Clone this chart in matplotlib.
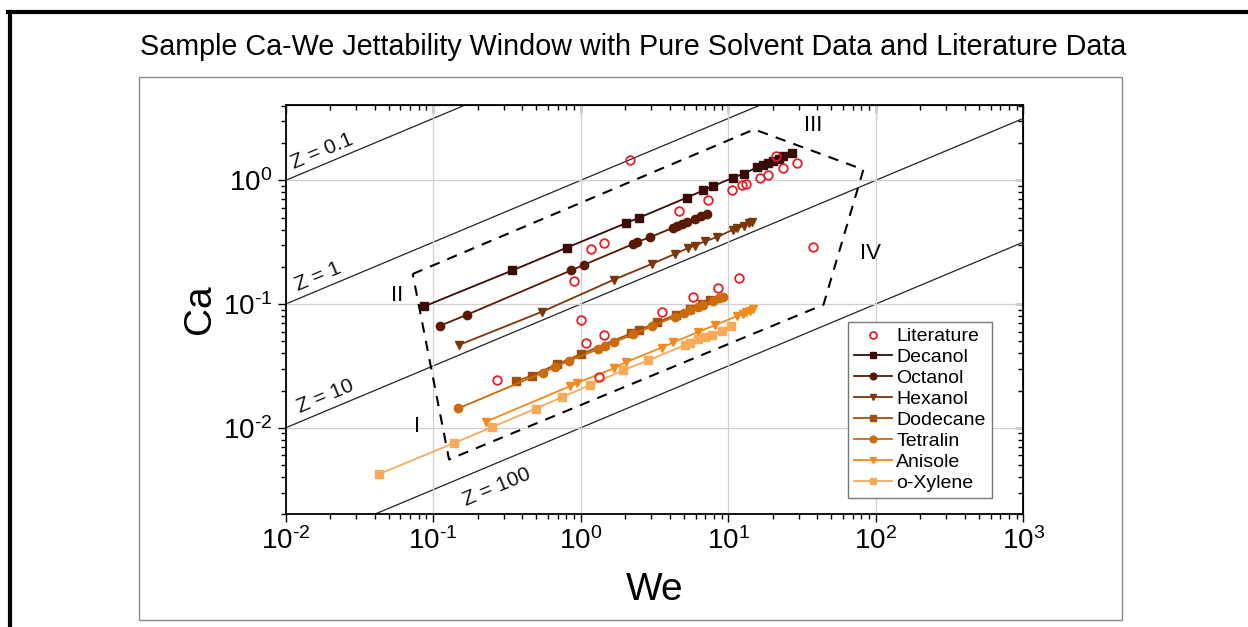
import numpy as np
import matplotlib
matplotlib.use("Agg")
import matplotlib.pyplot as plt
from matplotlib.lines import Line2D
from matplotlib.patches import Rectangle
from matplotlib.ticker import FuncFormatter

plt.rcParams["font.family"] = ["Liberation Sans", "DejaVu Sans"]
plt.rcParams["mathtext.fontset"] = "custom"
plt.rcParams["mathtext.rm"] = "Liberation Sans"
plt.rcParams["axes.unicode_minus"] = False

# --- data (We, Ca) ---
decanol_we = [0.0867, 0.344, 0.807, 2.03, 2.48, 5.23, 6.78, 7.92, 10.8, 12.7, 15.6, 17.3, 18.5, 20.2, 22.0, 23.6, 26.9]
decanol_ca = [0.0957, 0.187, 0.286, 0.451, 0.498, 0.724, 0.83, 0.90, 1.05, 1.13, 1.27, 1.32, 1.37, 1.43, 1.50, 1.57, 1.67]

octanol_we = [0.111, 0.169, 0.859, 1.047, 2.27, 2.42, 2.95, 4.21, 4.52, 4.85, 5.23, 5.96, 6.5, 7.14]
octanol_ca = [0.0667, 0.0819, 0.187, 0.207, 0.306, 0.318, 0.347, 0.413, 0.428, 0.445, 0.46, 0.49, 0.51, 0.535]

hexanol_we = [0.15, 0.55, 1.67, 3.03, 4.35, 5.36, 5.96, 6.97, 8.36, 10.8, 11.5, 12.8, 13.8, 14.5]
hexanol_ca = [0.0468, 0.087, 0.157, 0.211, 0.254, 0.284, 0.297, 0.322, 0.347, 0.40, 0.41, 0.43, 0.45, 0.46]

dodecane_we = [0.362, 0.466, 0.687, 1.0, 2.2, 2.5, 3.3, 4.4, 5.5, 6.6, 7.5]
dodecane_ca = [0.0237, 0.0264, 0.0326, 0.0393, 0.058, 0.062, 0.071, 0.082, 0.092, 0.101, 0.107]

tetralin_we = [0.148, 0.555, 0.67, 0.83, 1.31, 1.45, 1.67, 2.27, 3.03, 4.35, 5.0, 5.47, 6.2, 6.78, 7.92, 8.6, 9.2]
tetralin_ca = [0.01435, 0.0279, 0.031, 0.0347, 0.0431, 0.0455, 0.049, 0.057, 0.066, 0.079, 0.085, 0.089, 0.094, 0.099, 0.106, 0.111, 0.115]

anisole_we = [0.227, 0.846, 0.948, 1.68, 2.03, 3.54, 4.25, 6.27, 8.13, 11.5, 12.5, 13.2, 14.0, 14.7]
anisole_ca = [0.0112, 0.0217, 0.0231, 0.0303, 0.034, 0.0445, 0.049, 0.0596, 0.0675, 0.0800, 0.0830, 0.0855, 0.088, 0.091]

oxylene_we = [0.043, 0.139, 0.249, 0.496, 0.75, 1.156, 1.94, 2.87, 5.09, 5.5, 6.27, 7.0, 7.73, 9.0, 10.5]
oxylene_ca = [0.00423, 0.00755, 0.0101, 0.0143, 0.0177, 0.0222, 0.0292, 0.0351, 0.0465, 0.048, 0.0521, 0.054, 0.0563, 0.0606, 0.0667]

lit_we = [0.269, 0.906, 1.0, 1.09, 1.17, 1.32, 1.44, 1.44, 2.16, 3.54, 4.66, 5.74, 7.26, 8.5,
          10.6, 11.9, 12.4, 13.2, 16.4, 18.7, 21.0, 23.6, 29.1, 37.8]
lit_ca = [0.0242, 0.155, 0.0746, 0.0483, 0.277, 0.0258, 0.31, 0.0564, 1.45, 0.087, 0.564, 0.113, 0.697, 0.136,
          0.83, 0.163, 0.911, 0.94, 1.04, 1.11, 1.57, 1.26, 1.39, 0.288]

# jettability window outline (dashed polygon)
window_we = [0.0726, 15.0, 82.4, 44.2, 0.128, 0.0726]
window_ca = [0.175, 2.58, 1.22, 0.0987, 0.00555, 0.175]

z_values = [0.1, 1, 10, 100]
z_labels = ["Z = 0.1", "Z = 1", "Z = 10", "Z = 100"]
z_label_pos = [(0.0177, 1.73), (0.01664, 0.1675), (0.01867, 0.01782), (0.272, 0.00334)]

region_labels = ["I", "II", "III", "IV"]
region_pos = [(0.0773, 0.0103), (0.0565, 0.117), (37.6, 2.79), (91.6, 0.256)]

solvents = [
    ("Decanol", decanol_we, decanol_ca, "s", "#3a0a06"),
    ("Octanol", octanol_we, octanol_ca, "o", "#5a1a02"),
    ("Hexanol", hexanol_we, hexanol_ca, "v", "#7c3608"),
    ("Dodecane", dodecane_we, dodecane_ca, "s", "#a34d06"),
    ("Tetralin", tetralin_we, tetralin_ca, "o", "#cc6a0e"),
    ("Anisole", anisole_we, anisole_ca, "v", "#f28a1c"),
    ("o-Xylene", oxylene_we, oxylene_ca, "s", "#f8aa5a"),
]


def decade_label(value, _pos):
    # Origin-style "10^-n" with a plain hyphen instead of a math minus
    exp = int(round(np.log10(value)))
    sign = "\u2010" if exp < 0 else ""
    return r"$\mathregular{10^{%s%d}}$" % (sign, abs(exp))


fig = plt.figure(figsize=(12.48, 6.27), dpi=100)

# screenshot frame: thick black top/left edges and the grey panel box
fig.add_artist(Line2D([8 / 1248, 1], [1 - 12 / 627] * 2, color="black", lw=3, transform=fig.transFigure))
fig.add_artist(Line2D([10 / 1248] * 2, [0, 1 - 12 / 627], color="black", lw=3, transform=fig.transFigure))
fig.add_artist(Rectangle((139 / 1248, 7 / 627), 983 / 1248, 543 / 627, fill=False,
                         edgecolor="#8a8a8a", lw=1.0, transform=fig.transFigure))

fig.text(0.507, 1 - 47 / 627, "Sample Ca-We Jettability Window with Pure Solvent Data and Literature Data",
         ha="center", va="center", fontsize=20.7)

ax = fig.add_axes([285.7 / 1248, 112.7 / 627, 737.6 / 1248, 409.3 / 627])
ax.set_xscale("log")
ax.set_yscale("log")
ax.set_xlim(1e-2, 1e3)
ax.set_ylim(2e-3, 4.06)
ax.xaxis.set_major_formatter(FuncFormatter(decade_label))
ax.yaxis.set_major_formatter(FuncFormatter(decade_label))

ax.grid(True, which="major", color="#d0d0d0", lw=0.9, zorder=0)

# constant-Z guide lines, Ca = sqrt(We) / Z
we_line = np.logspace(-2, 3, 200)
for z in z_values:
    ax.plot(we_line, np.sqrt(we_line) / z, color="#222222", lw=0.9, zorder=1)

p0 = ax.transData.transform((1e-2, 0.1))
p1 = ax.transData.transform((1e3, 0.1 * np.sqrt(1e5)))
angle = np.degrees(np.arctan2(p1[1] - p0[1], p1[0] - p0[0]))
for label, (xw, yc) in zip(z_labels, z_label_pos):
    ax.text(xw, yc, label, rotation=angle, rotation_mode="anchor", ha="center", va="center",
            fontsize=15, color="#111111")

ax.plot(window_we, window_ca, color="black", lw=1.5, ls=(0, (5, 4)), zorder=2)
for label, (xw, yc) in zip(region_labels, region_pos):
    ax.text(xw, yc, label, ha="center", va="center", fontsize=16)

ax.plot(lit_we, lit_ca, ls="none", marker="o", ms=6.2, mfc="none", mec="#e3202a", mew=1.3,
        label="Literature", zorder=4)
for name, we, ca, mk, col in solvents:
    ax.plot(we, ca, color=col, lw=1.3, marker=mk, ms=6, mec=col, mfc=col, label=name, zorder=3)

ax.tick_params(which="both", direction="out", labelsize=20, width=1.0, color="black")
ax.tick_params(which="major", length=6)
ax.tick_params(which="minor", length=3.5)
for sp in ax.spines.values():
    sp.set_linewidth(1.3)

top = ax.secondary_xaxis("top")
top.tick_params(which="both", direction="in", labeltop=False, width=1.0)
top.tick_params(which="major", length=6)
top.tick_params(which="minor", length=3.5)
right = ax.secondary_yaxis("right")
right.tick_params(which="both", direction="in", labelright=False, width=1.0)
right.tick_params(which="major", length=6)
right.tick_params(which="minor", length=3.5)

ax.set_xlabel("We", fontsize=28, va="center")
ax.set_ylabel("Ca", fontsize=28, va="center")
ax.xaxis.set_label_coords(0.5, -0.185)
ax.yaxis.set_label_coords(-0.116, 0.5)

leg = ax.legend(loc="upper left", bbox_to_anchor=(0.762, 0.47), fontsize=14, frameon=True,
                fancybox=False, edgecolor="#777777", framealpha=1, labelspacing=0.17,
                handlelength=2.0, handletextpad=0.2, borderpad=0.3, borderaxespad=0, markerscale=0.8)
leg.get_frame().set_linewidth(1.0)

fig.savefig("out.png", dpi=100)
